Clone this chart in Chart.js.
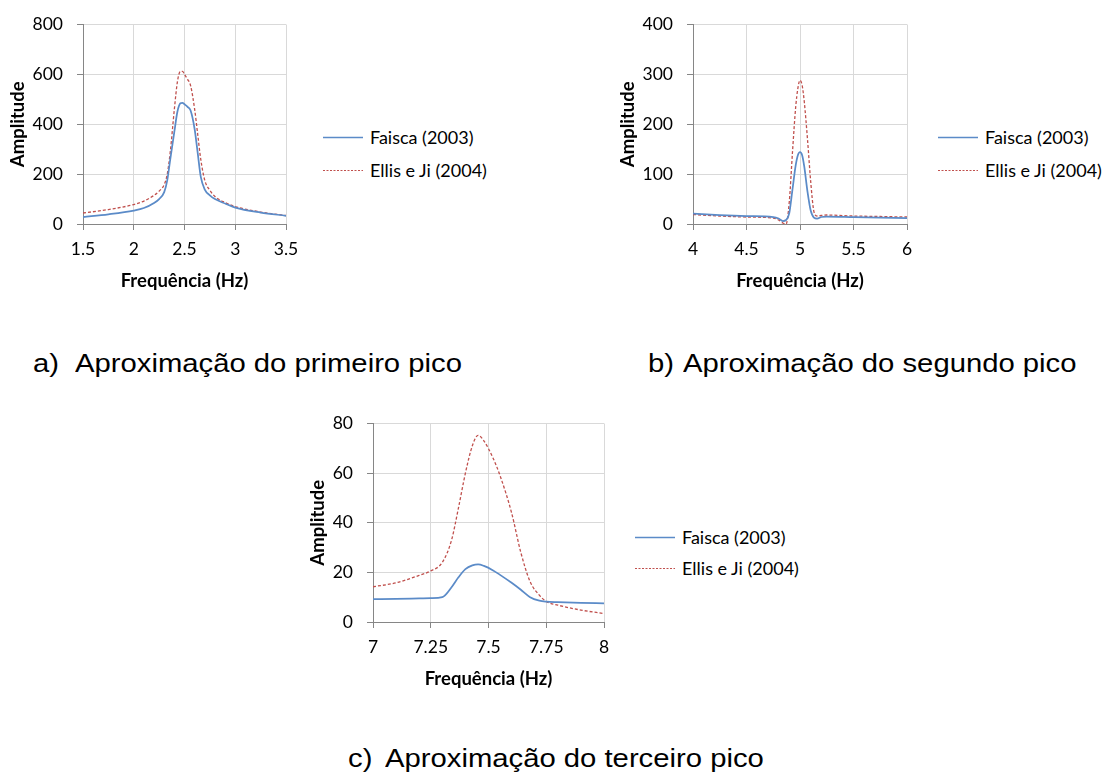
<!DOCTYPE html>
<html>
<head>
<meta charset="utf-8">
<script src="https://cdn.jsdelivr.net/npm/chart.js@4.4.1/dist/chart.umd.min.js"></script>
<style>
  body{ margin:0; background:#fff; }
  #page{ position:relative; width:1113px; height:776px; background:#fff; overflow:hidden; }
  canvas{ position:absolute; }
  .legend{ position:absolute; font-family:Lato, sans-serif; font-size:18px; color:#000; }
  .legend .row{ position:absolute; left:0; white-space:nowrap; height:20px; line-height:20px; }
  .legend svg{ position:absolute; left:0; top:0; }
  .legend span{ position:absolute; top:0; }
  .cap{ position:absolute; font-family:"Liberation Sans", Arial, sans-serif; font-size:26px; line-height:26px;
        color:#000; white-space:nowrap; transform:scaleX(1.125); transform-origin:0 0; }
</style>
</head>
<body>
<div id="page">
  <canvas id="chartA" width="310" height="300" style="left:0;top:0"></canvas>
  <canvas id="chartB" width="320" height="300" style="left:610px;top:0"></canvas>
  <canvas id="chartC" width="330" height="299" style="left:300px;top:399px"></canvas>

  <div class="legend" id="legA" style="left:323px;top:127px"></div>
  <div class="legend" id="legB" style="left:938px;top:127px"></div>
  <div class="legend" id="legC" style="left:635px;top:527px"></div>

  <div class="cap" style="left:33px;top:350px">a)</div>
  <div class="cap" style="left:75px;top:350px">Aproximação do primeiro pico</div>
  <div class="cap" style="left:648px;top:350px">b)</div>
  <div class="cap" style="left:683px;top:350px">Aproximação do segundo pico</div>
  <div class="cap" style="left:348px;top:745px">c)</div>
  <div class="cap" style="left:385px;top:745px">Aproximação do terceiro pico</div>
</div>

<script>
const seriesNames = ["Faisca (2003)", "Ellis e Ji (2004)"];

/* ------- a) primeiro pico ------- */
const freqA   = [1.5, 1.75, 2.0, 2.1, 2.2, 2.25, 2.3, 2.33, 2.36, 2.4, 2.43, 2.46, 2.48, 2.5, 2.53, 2.56, 2.6, 2.63, 2.66, 2.7, 2.75, 2.8, 2.9, 3.0, 3.25, 3.5];
const faiscaA = [28, 39, 54, 64, 84, 100, 128, 175, 260, 370, 450, 484, 486, 480, 470, 455, 380, 285, 190, 138, 115, 100, 82, 66, 46, 33];
const ellisA  = [44, 58, 78, 92, 115, 132, 158, 200, 290, 460, 570, 612, 612, 600, 580, 555, 460, 360, 260, 175, 135, 110, 86, 70, 48, 34];

/* ------- b) segundo pico ------- */
const freqB   = [4.0, 4.25, 4.5, 4.75, 4.8, 4.84, 4.87, 4.9, 4.93, 4.96, 4.98, 5.0, 5.02, 5.04, 5.07, 5.1, 5.13, 5.16, 5.2, 5.25, 5.5, 5.75, 6.0];
const faiscaB = [21, 18, 16, 14, 11, 6, 8, 22, 70, 118, 138, 144, 138, 115, 65, 27, 13, 11, 14, 15, 14, 13, 12];
const ellisB  = [19, 16, 14, 12, 8, 2, 0, 45, 145, 235, 272, 288, 278, 245, 170, 85, 25, 16, 17, 18, 16, 15, 14];

/* ------- c) terceiro pico ------- */
const freqC   = [7.0, 7.1, 7.2, 7.25, 7.3, 7.34, 7.37, 7.4, 7.43, 7.455, 7.48, 7.52, 7.55, 7.6, 7.64, 7.68, 7.72, 7.75, 7.8, 7.9, 8.0];
const faiscaC = [9.2, 9.3, 9.5, 9.6, 10, 14, 18, 21.3, 22.8, 23.2, 22.6, 20.8, 19, 15.8, 13, 10, 8.6, 8.2, 8.0, 7.7, 7.5];
const ellisC  = [14.2, 15.8, 18.8, 20.6, 24, 33, 46, 60, 71, 75.2, 73, 66, 59, 44, 28, 16.3, 10.8, 8.3, 6.8, 4.8, 3.4];

const BLUE = "#5b8bc8";
const RED = "#c0504d";
const GRID = "#d9d9d9";
const AXIS = "#868686";

function pts(xs, ys){
  return xs.map((x,i)=>({x:x, y:ys[i]}));
}

function makeChart(id, freq, faisca, ellis, ax){
  new Chart(document.getElementById(id), {
    type:"line",
    data:{
      datasets:[
        { label:seriesNames[0], data:pts(freq,faisca), borderColor:BLUE, borderWidth:1.75,
          pointRadius:0, cubicInterpolationMode:"monotone" },
        { label:seriesNames[1], data:pts(freq,ellis), borderColor:RED, borderWidth:1.3,
          borderDash:[3,2], pointRadius:0, cubicInterpolationMode:"monotone" }
      ]
    },
    options:{
      responsive:false,
      animation:false,
      devicePixelRatio:1,
      layout:{ padding:{ left:0, top:17, right:ax.padRight, bottom:0 } },
      plugins:{ legend:{display:false}, tooltip:{enabled:false} },
      scales:{
        x:{
          type:"linear", min:ax.xmin, max:ax.xmax,
          afterFit:s=>{ s.height = 76; },
          ticks:{ stepSize:ax.xstep, color:"#000", padding:9,
            font:{family:"Lato", size:17.5},
            callback:v=>String(+v.toFixed(2)) },
          grid:{ color:GRID, tickColor:AXIS, tickLength:6 },
          border:{ color:AXIS },
          title:{ display:true, text:"Frequência (Hz)", color:"#000",
            font:{family:"Lato", size:18.5, weight:"bold"}, padding:{top:0, bottom:8} }
        },
        y:{
          min:0, max:ax.ymax,
          afterFit:s=>{ s.width = ax.yWidth; },
          ticks:{ stepSize:ax.ystep, color:"#000", padding:14,
            font:{family:"Lato", size:17.5} },
          grid:{ color:GRID, tickColor:AXIS, tickLength:6 },
          border:{ color:AXIS },
          title:{ display:true, text:"Amplitude", color:"#000",
            font:{family:"Lato", size:18.5, weight:"bold"}, padding:{top:7, bottom:0} }
        }
      }
    }
  });
}

/* ------- LEGENDS ------- */
function makeLegend(id, gap){
  const box = document.getElementById(id);
  box.innerHTML = `
    <div class="row" style="top:0">
      <svg width="42" height="20"><line x1="0" y1="10.5" x2="40" y2="10.5" stroke="${BLUE}" stroke-width="1.5"/></svg>
      <span style="left:47px">${seriesNames[0]}</span>
    </div>
    <div class="row" style="top:${gap}px">
      <svg width="42" height="20"><line x1="0" y1="10.5" x2="40" y2="10.5" stroke="${RED}" stroke-width="1.2" stroke-dasharray="2,1.5"/></svg>
      <span style="left:47px">${seriesNames[1]}</span>
    </div>`;
}

makeChart("chartA", freqA, faiscaA, ellisA, {xmin:1.5, xmax:3.5, xstep:0.5, ymax:800, ystep:200, yWidth:83, padRight:24});
makeChart("chartB", freqB, faiscaB, ellisB, {xmin:4, xmax:6, xstep:0.5, ymax:400, ystep:100, yWidth:83, padRight:23});
makeChart("chartC", freqC, faiscaC, ellisC, {xmin:7, xmax:8, xstep:0.25, ymax:80, ystep:20, yWidth:73, padRight:26});

makeLegend("legA", 33);
makeLegend("legB", 33);
makeLegend("legC", 31);
</script>
</body>
</html>
